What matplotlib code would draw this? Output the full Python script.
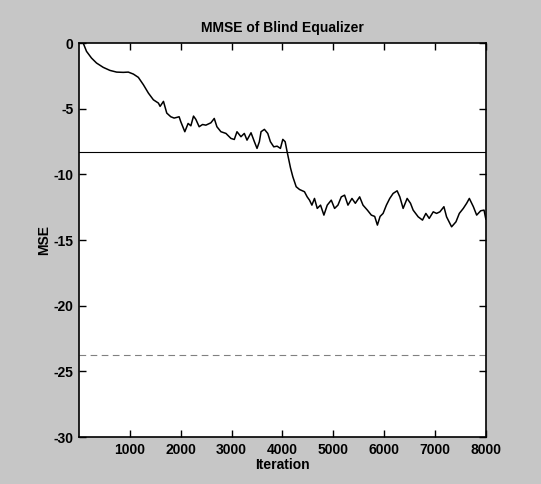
import matplotlib.pyplot as plt
import numpy as np

# MSE curve (iteration, MSE in dB)
iterations = [0, 83, 148, 246, 345, 477, 608, 740, 871, 970, 1069, 1167, 1266, 1365,
              1463, 1562, 1595, 1661, 1726, 1805, 1870, 1923, 1969, 2002, 2081, 2146,
              2200, 2252, 2298, 2363, 2430, 2495, 2594, 2660, 2712, 2791, 2890, 2988,
              3054, 3107, 3185, 3251, 3304, 3383, 3449, 3501, 3547, 3580, 3646, 3712,
              3764, 3830, 3896, 3961, 4008, 4054, 4093, 4159, 4205, 4271, 4337, 4434,
              4487, 4533, 4580, 4631, 4685, 4750, 4816, 4882, 4961, 5026, 5092, 5158,
              5223, 5289, 5368, 5434, 5519, 5585, 5671, 5749, 5815, 5868, 5921, 5980,
              6045, 6111, 6177, 6256, 6309, 6374, 6453, 6519, 6571, 6670, 6755, 6821,
              6887, 6966, 7032, 7097, 7176, 7228, 7327, 7413, 7479, 7557, 7623, 7676,
              7755, 7820, 7899, 7965, 8000]
mse = [0.0, 0.0, -0.63, -1.14, -1.52, -1.85, -2.08, -2.21, -2.23, -2.21, -2.36, -2.61,
       -3.17, -3.81, -4.32, -4.57, -4.82, -4.44, -5.33, -5.61, -5.71, -5.66, -5.61,
       -5.99, -6.75, -6.12, -6.3, -5.56, -5.81, -6.37, -6.2, -6.25, -6.07, -5.74, -6.37,
       -6.75, -6.88, -7.26, -7.34, -6.75, -7.13, -6.88, -7.39, -6.83, -7.51, -8.02,
       -7.51, -6.75, -6.57, -6.88, -7.51, -7.9, -7.85, -8.02, -7.33, -7.51, -8.28,
       -9.5, -10.18, -10.94, -11.15, -11.32, -11.71, -11.96, -12.34, -11.83, -12.59,
       -12.34, -13.1, -12.34, -11.96, -12.59, -12.34, -11.71, -11.58, -12.34, -11.83,
       -12.2, -11.71, -12.34, -12.72, -13.1, -13.2, -13.86, -13.2, -12.97, -12.34,
       -11.83, -11.45, -11.25, -11.71, -12.59, -11.83, -12.2, -12.72, -13.23, -13.48,
       -12.97, -13.35, -12.85, -12.97, -12.85, -12.46, -13.23, -13.99, -13.61, -12.97,
       -12.59, -12.2, -11.83, -12.46, -13.1, -12.77, -12.72, -13.4]

mmse_level = -8.32
lower_level = -23.76

x_ticks = [1000, 2000, 3000, 4000, 5000, 6000, 7000, 8000]
y_ticks = [0, -5, -10, -15, -20, -25, -30]

plt.rcParams['font.family'] = ['Liberation Sans Narrow', 'Liberation Sans', 'DejaVu Sans']
plt.rcParams['font.weight'] = 'bold'

fig = plt.figure(figsize=(5.41, 4.84), dpi=100, facecolor='#c6c6c6')
ax = fig.add_axes([0.146, 0.097, 0.752, 0.814])
ax.set_facecolor('white')

ax.plot(iterations, mse, color='black', linewidth=1.1)
ax.axhline(mmse_level, color='black', linewidth=0.8)
ax.axhline(lower_level, color='#808080', linewidth=0.8, linestyle=(0, (6, 4)))

ax.set_xlim(0, 8000)
ax.set_ylim(-30, 0)
ax.set_xticks(x_ticks)
ax.set_yticks(y_ticks)
ax.set_yticklabels([str(v) for v in y_ticks])
ax.tick_params(direction='in', top=True, right=True, length=5, width=1,
               labelsize=10, pad=4)
for lbl in ax.get_xticklabels() + ax.get_yticklabels():
    lbl.set_fontweight('bold')
for spine in ax.spines.values():
    spine.set_linewidth(1.2)

ax.set_title('MMSE of Blind Equalizer', fontsize=10, fontweight='bold', pad=8)
ax.set_xlabel('Iteration', fontsize=10, fontweight='bold', labelpad=1)
ax.set_ylabel('MSE', fontsize=10, fontweight='bold', labelpad=2)

fig.savefig('out.png', dpi=100, facecolor=fig.get_facecolor())
